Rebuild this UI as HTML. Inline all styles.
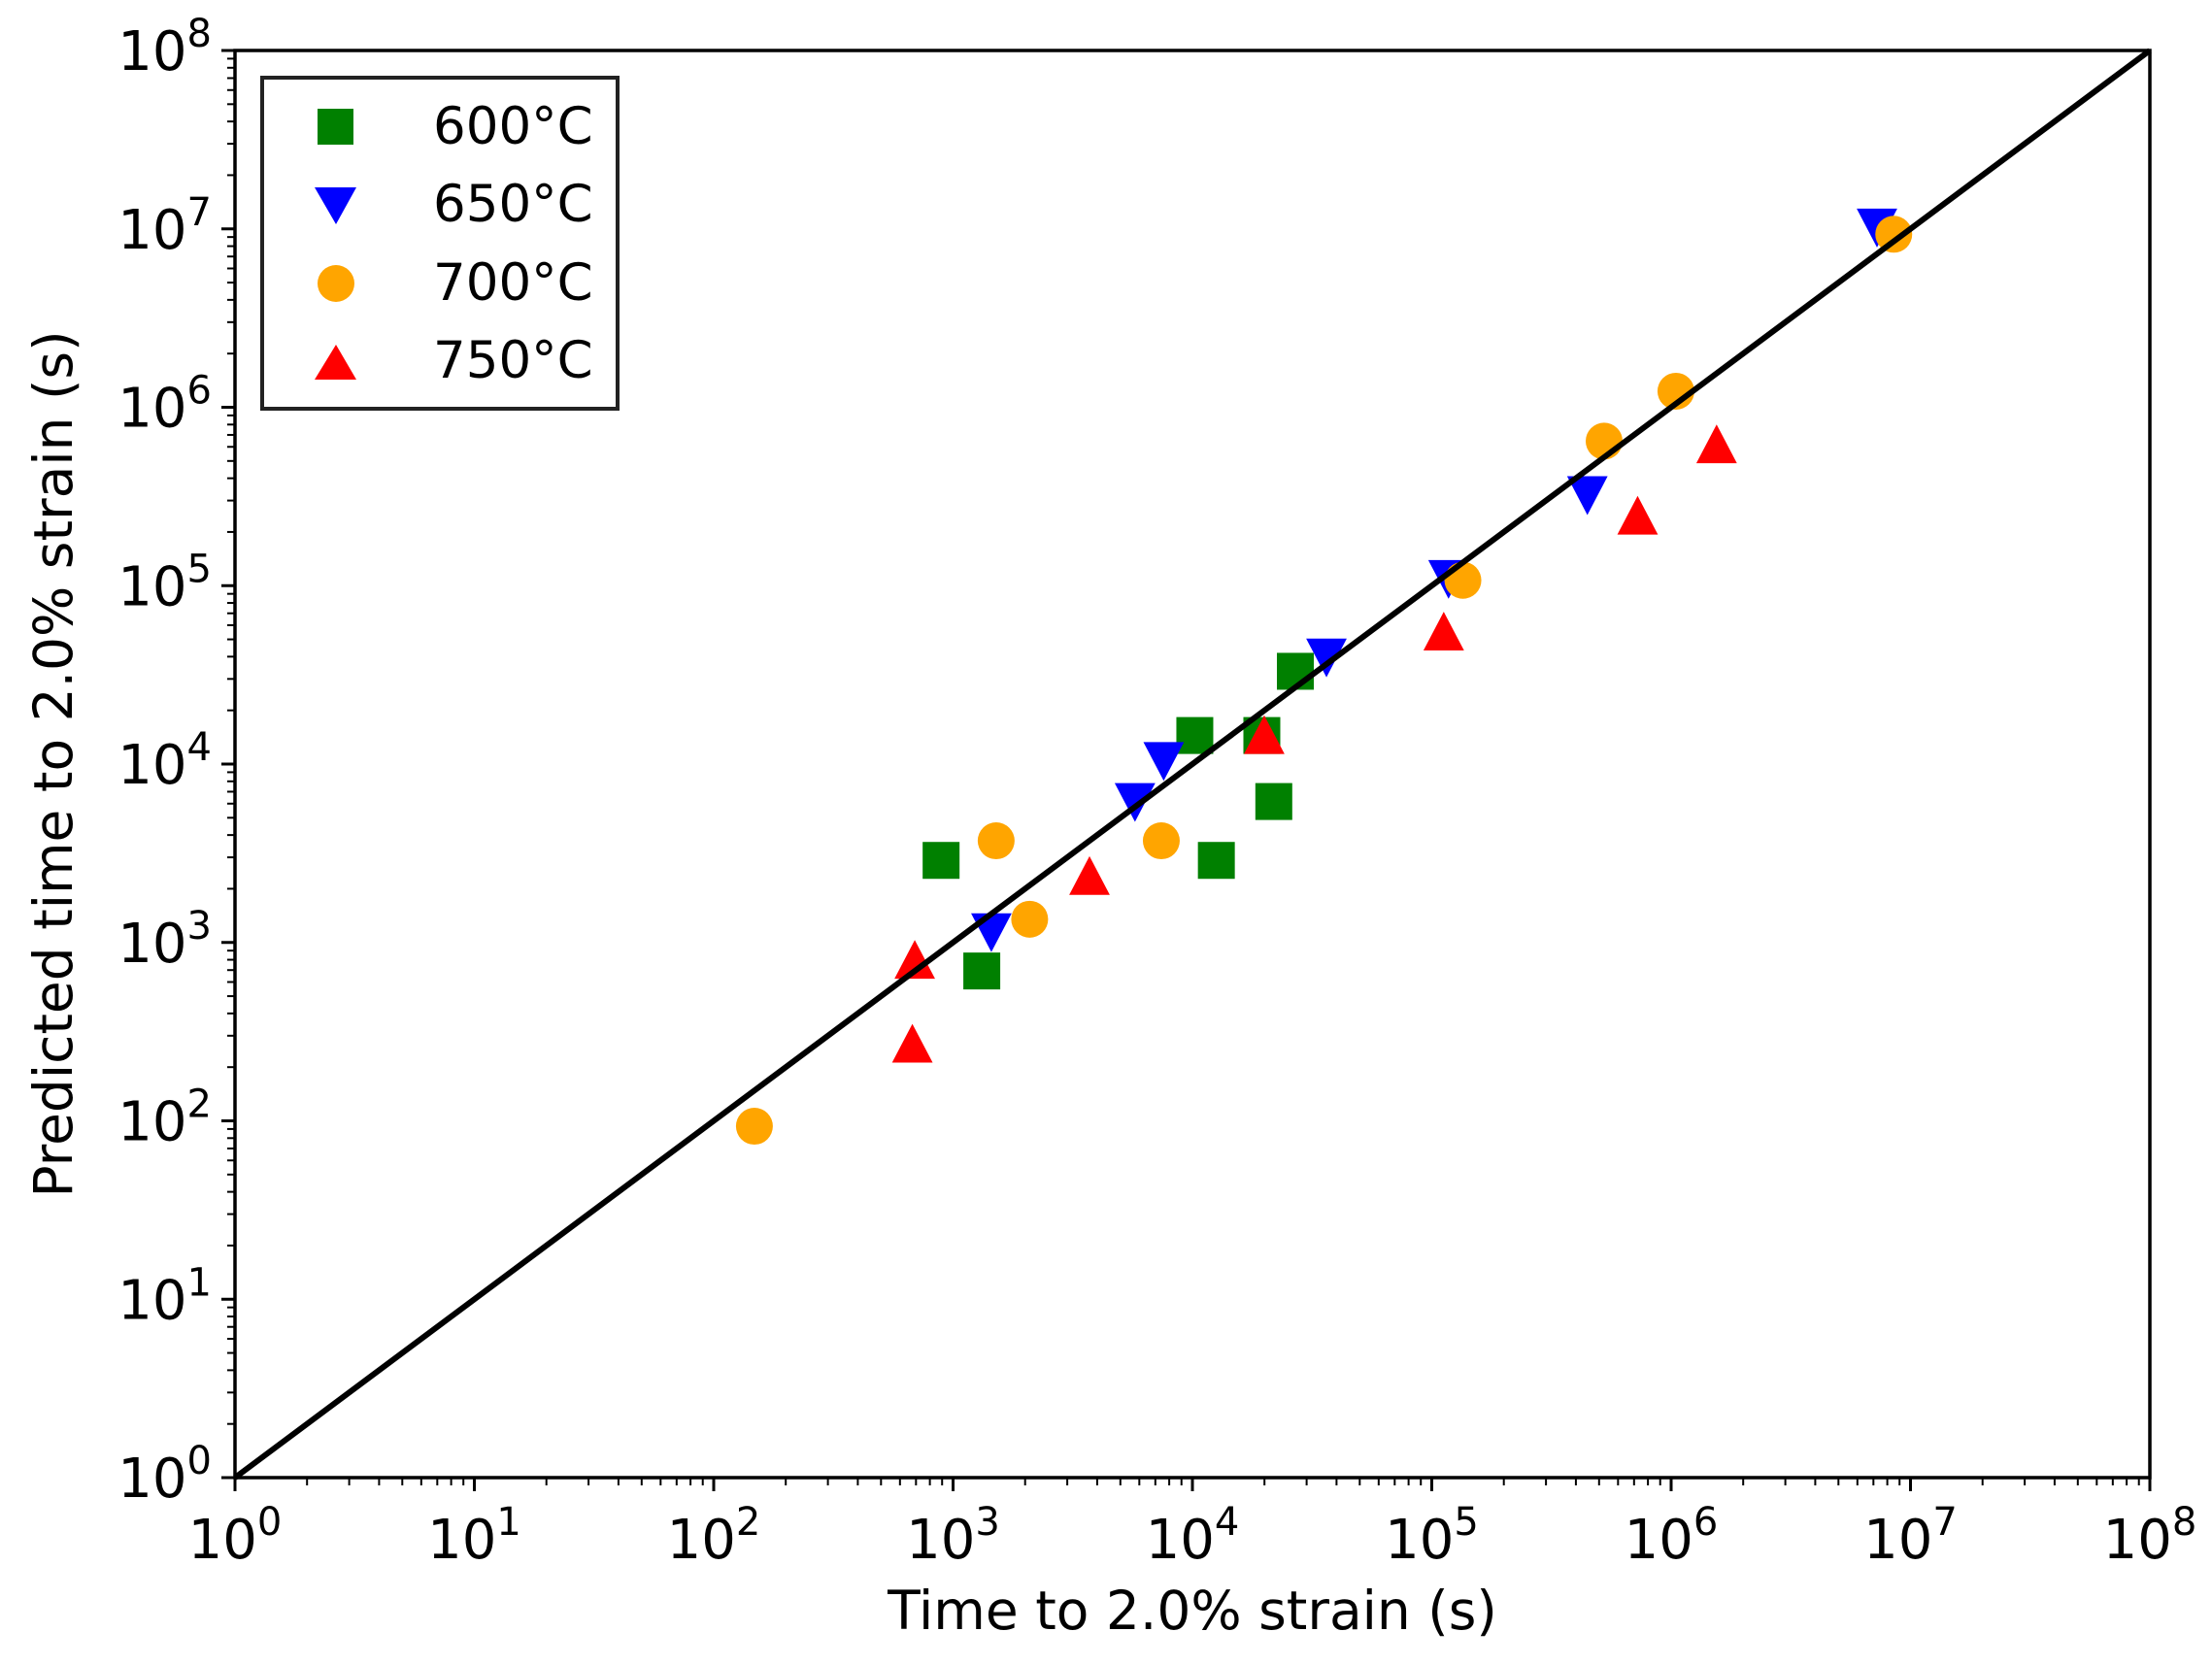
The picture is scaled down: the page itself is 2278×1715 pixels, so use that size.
<!DOCTYPE html>
<html><head><meta charset="utf-8"><style>
html,body{margin:0;padding:0;background:#fff;}
svg{display:block;font-family:"DejaVu Sans","Liberation Sans",sans-serif;}
</style></head><body>
<svg id="chart" width="2278" height="1715" viewBox="0 0 2278 1715" xmlns="http://www.w3.org/2000/svg">
<rect width="2278" height="1715" fill="#fff"/>
<g id="marks"></g>
<g id="axes"></g>
</svg>
<script>
const series = ["600°C","650°C","700°C","750°C"];
const colors = ["#008000","#0000ff","#ffa500","#ff0000"];
const shapes = ["square","tri-down","circle","tri-up"];
// log10 values (x = measured time, y = predicted time)
const x600 = [2.95,3.12,4.01,4.10,4.29,4.34,4.43];
const y600 = [3.46,2.84,4.16,3.46,4.16,3.79,4.52];
const x650 = [3.16,3.76,3.88,4.56,5.07,5.65,6.86];
const y650 = [3.06,3.79,4.02,4.60,5.04,5.51,7.01];
const x700 = [2.17,3.18,3.32,3.87,5.13,5.72,6.02,6.93];
const y700 = [1.97,3.57,3.13,3.57,5.03,5.81,6.09,6.97];
const x750 = [2.84,2.83,3.57,4.30,5.05,5.86,6.19];
const y750 = [2.90,2.43,3.37,4.16,4.74,5.39,5.79];
const decades = [0,1,2,3,4,5,6,7,8];

const L=242,R=2214,T=52,B=1522;
const sx=v=>L+(v-0)/8*(R-L);
const sy=v=>B-(v-0)/8*(B-T);
const NS="http://www.w3.org/2000/svg";
function mk(tag,attrs,parent){const e=document.createElementNS(NS,tag);for(const k in attrs)e.setAttribute(k,attrs[k]);parent.appendChild(e);return e;}
const marks=document.getElementById('marks');
const axes=document.getElementById('axes');

function marker(shape,cx,cy,color,parent,s){
  let e;
  if(shape==="square"){e=mk('rect',{x:cx-s/2,y:cy-s/2,width:s,height:s,fill:color},parent);}
  else if(shape==="circle"){e=mk('circle',{cx:cx,cy:cy,r:s/2,fill:color},parent);}
  else if(shape==="tri-down"){e=mk('polygon',{points:`${cx-s*0.55},${cy-s*0.5} ${cx+s*0.55},${cy-s*0.5} ${cx},${cy+s*0.55}`,fill:color},parent);}
  else {e=mk('polygon',{points:`${cx-s*0.55},${cy+s*0.5} ${cx+s*0.55},${cy+s*0.5} ${cx},${cy-s*0.55}`,fill:color},parent);}
  return e;
}
const xs=[x600,x650,x700,x750], ys=[y600,y650,y700,y750];
xs.forEach((xa,si)=>{
  const g=mk('g',{},marks);
  
  
  xa.forEach((xv,i)=>{
    const m=marker(shapes[si],sx(xv),sy(ys[si][i]),colors[si],g,38);
    
    
  });
});
const diag=mk('line',{x1:sx(0),y1:sy(0),x2:sx(8),y2:sy(8),stroke:'#000','stroke-width':6},axes);


const fr=mk('rect',{x:L,y:T,width:R-L,height:B-T,fill:'none',stroke:'#000','stroke-width':3.5},axes);


decades.forEach(d=>{
  const X=sx(d),Y=sy(d);
  mk('line',{x1:X,y1:B,x2:X,y2:B+14,stroke:'#000','stroke-width':3},axes);
  mk('line',{x1:L,y1:Y,x2:L-14,y2:Y,stroke:'#000','stroke-width':3},axes);
  const tx=mk('text',{x:X,y:1605,'text-anchor':'middle','font-size':56},axes);
  tx.innerHTML='10<tspan dy="-24" font-size="40">'+d+'</tspan>';
  
  
  const ty=mk('text',{x:L-24,y:Y+20,'text-anchor':'end','font-size':56},axes);
  ty.innerHTML='10<tspan dy="-24" font-size="40">'+d+'</tspan>';
  
  
  if(d<8){for(let k=2;k<10;k++){
    const lv=d+Math.log10(k);
    mk('line',{x1:sx(lv),y1:B,x2:sx(lv),y2:B+8,stroke:'#000','stroke-width':2},axes);
    mk('line',{x1:L,y1:sy(lv),x2:L-8,y2:sy(lv),stroke:'#000','stroke-width':2},axes);
  }}
});
</script>
<svg style="position:absolute;left:0;top:0" width="2278" height="1715" xmlns="http://www.w3.org/2000/svg" font-family="DejaVu Sans, Liberation Sans, sans-serif">
<text x="1228" y="1678" text-anchor="middle" font-size="55">Time to 2.0% strain (s)</text>
<text transform="translate(74,787) rotate(-90)" text-anchor="middle" font-size="55">Predicted time to 2.0% strain (s)</text>
<g>
<rect x="270" y="80" width="366" height="341" fill="#fff" stroke="#222" stroke-width="4"/>
<rect x="327" y="112" width="37" height="37" fill="#008000"/>
<polygon points="324,193 367,193 346,231" fill="#0000ff"/>
<circle cx="346" cy="292" r="19" fill="#ffa500"/>
<polygon points="324,391 367,391 346,355" fill="#ff0000"/>
<text x="446" y="148" font-size="53">600°C</text>
<text x="446" y="228" font-size="53">650°C</text>
<text x="446" y="309" font-size="53">700°C</text>
<text x="446" y="389" font-size="53">750°C</text>
</g>
</svg>
</body></html>
